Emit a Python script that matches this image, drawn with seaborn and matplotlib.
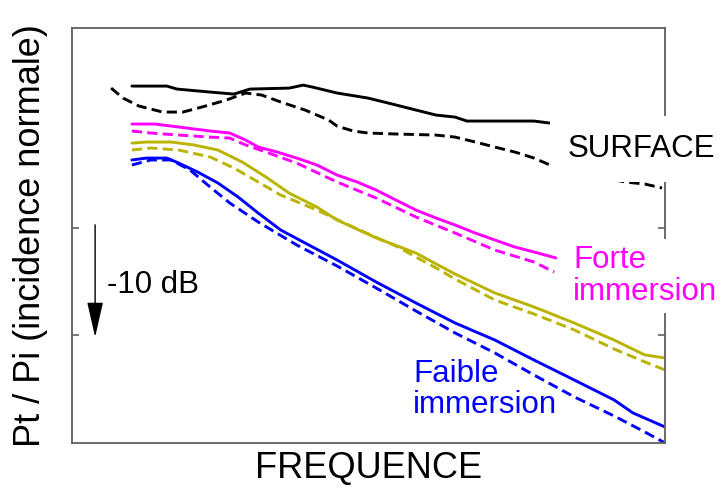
import numpy as np
import pandas as pd
import matplotlib
matplotlib.use("Agg")
import matplotlib.pyplot as plt
import seaborn as sns

# fréquence relative (0-100, échelle arbitraire) et niveau Pt/Pi en dB
surface_plein_x = [10.1, 16.0, 17.7, 23.3, 27.3, 30.0, 36.6, 39.0, 40.6, 44.7, 49.9,
                   54.0, 58.0, 61.4, 64.6, 66.6, 77.9, 80.6]
surface_plein_y = [3.27, 3.27, 2.99, 2.71, 2.52, 2.99, 3.08, 3.36, 3.17, 2.62, 2.15,
                   1.59, 1.03, 0.56, 0.37, 0.0, 0.0, -0.19]

surface_tiret_x = [6.6, 8.6, 11.3, 15.3, 18.7, 21.9, 26.0, 29.3, 32.0, 35.2, 39.3, 43.3,
                   44.7, 47.4, 49.9, 54.6, 61.4, 64.6, 68.0, 71.3, 74.7, 77.9, 80.6,
                   85.7, 90.7, 93.3, 96.6, 99.5]
surface_tiret_y = [3.08, 2.15, 1.40, 0.84, 0.84, 1.31, 1.96, 2.62, 2.43, 1.78, 1.03, 0.09,
                   -0.47, -0.93, -1.12, -1.21, -1.31, -1.50, -1.96, -2.43, -2.90, -3.46,
                   -4.11, -4.77, -5.42, -5.70, -5.89, -6.26]

forte_plein_x = [10.1, 14.0, 18.0, 23.3, 26.6, 29.3, 31.4, 34.6, 37.9, 41.3, 44.7, 48.1,
                 51.3, 54.6, 58.0, 61.4, 64.6, 68.0, 71.3, 74.7, 77.9, 81.6]
forte_plein_y = [-0.28, -0.28, -0.56, -0.93, -1.12, -1.78, -2.43, -2.90, -3.46, -4.11,
                 -5.05, -5.70, -6.45, -7.38, -8.32, -9.07, -9.72, -10.47, -11.12, -11.78,
                 -12.24, -12.80]

forte_tiret_x = [10.1, 13.3, 18.0, 23.3, 26.6, 29.3, 32.7, 37.9, 44.7, 51.3, 58.0, 64.6,
                 71.3, 77.9, 81.3]
forte_tiret_y = [-0.93, -1.12, -1.31, -1.50, -1.59, -2.24, -2.90, -3.93, -5.70, -7.20,
                 -8.97, -10.47, -12.06, -13.18, -14.11]

moyenne_plein_x = [10.1, 12.6, 16.7, 20.6, 24.6, 28.7, 32.7, 36.6, 41.3, 44.7, 51.3, 58.0,
                   61.4, 64.6, 71.3, 77.9, 84.7, 91.4, 96.6, 100.0]
moyenne_plein_y = [-2.06, -1.96, -1.96, -2.24, -2.71, -3.83, -5.23, -6.73, -8.04, -9.25,
                   -10.93, -12.34, -13.36, -14.30, -16.07, -17.38, -18.88, -20.47, -21.87,
                   -22.15]

moyenne_tiret_x = [10.1, 13.3, 18.0, 23.3, 27.3, 31.4, 35.2, 41.3, 48.1, 54.6, 58.0, 61.4,
                   64.6, 71.3, 77.9, 84.7, 91.4, 96.6, 100.0]
moyenne_tiret_y = [-2.71, -2.52, -2.71, -3.36, -4.39, -5.70, -6.92, -8.32, -10.09, -11.68,
                   -12.71, -13.74, -14.77, -16.73, -18.04, -19.53, -21.31, -22.52, -23.27]

faible_plein_x = [10.1, 12.6, 16.0, 18.0, 21.2, 24.6, 28.0, 31.4, 35.2, 39.3, 44.7, 51.3,
                  58.0, 64.6, 71.3, 77.9, 84.7, 91.4, 94.6, 100.0]
faible_plein_y = [-3.64, -3.46, -3.46, -3.93, -4.77, -5.79, -7.10, -8.60, -10.19, -11.40,
                  -12.99, -15.05, -17.01, -18.88, -20.47, -22.34, -24.21, -26.07, -27.29,
                  -28.60]

faible_tiret_x = [10.1, 13.3, 16.7, 19.9, 23.3, 26.6, 31.4, 37.9, 44.7, 51.3, 58.0, 64.6,
                  71.3, 77.9, 84.7, 91.4, 96.6, 100.0]
faible_tiret_y = [-4.11, -3.64, -3.64, -4.58, -6.17, -7.66, -9.44, -11.59, -13.55, -15.61,
                  -17.76, -19.81, -21.68, -23.74, -25.79, -27.57, -29.07, -30.09]

couleurs = {"surface": "black", "forte": "#ff00ff", "moyenne": "#bab400", "faible": "#0000ff"}

series = [
    ("surface", "plein", surface_plein_x, surface_plein_y),
    ("surface", "tiret", surface_tiret_x, surface_tiret_y),
    ("forte", "plein", forte_plein_x, forte_plein_y),
    ("forte", "tiret", forte_tiret_x, forte_tiret_y),
    ("moyenne", "plein", moyenne_plein_x, moyenne_plein_y),
    ("moyenne", "tiret", moyenne_tiret_x, moyenne_tiret_y),
    ("faible", "plein", faible_plein_x, faible_plein_y),
    ("faible", "tiret", faible_tiret_x, faible_tiret_y),
]

frames = []
for nom, trait, xs, ys in series:
    frames.append(pd.DataFrame({"freq": xs, "niveau": ys, "immersion": nom, "trait": trait}))
df = pd.concat(frames, ignore_index=True)

sns.set_theme(style="white")
plt.rcParams["font.family"] = ["Liberation Sans", "DejaVu Sans"]
plt.rcParams["text.color"] = "black"
plt.rcParams["axes.labelcolor"] = "black"

fig = plt.figure(figsize=(7.28, 4.91), dpi=100)
ax = fig.add_axes([72 / 728, 1 - 443 / 491, 593 / 728, 415 / 491])

sns.lineplot(data=df, x="freq", y="niveau", hue="immersion", style="trait",
             palette=couleurs, dashes={"plein": "", "tiret": (3.5, 1.8)},
             estimator=None, sort=False, linewidth=2.1, legend=False, ax=ax)

ax.set_xlim(0, 100)
ax.set_ylim(-30.1, 8.7)
ax.set_xticks([])
ax.set_yticks([-10, -20])
ax.set_yticklabels([])
ax.tick_params(axis="y", direction="in", length=5, width=1.2, color="#606060",
               left=True, right=True)
for sp in ax.spines.values():
    sp.set_color("#606060")
    sp.set_linewidth(1.3)

ax.set_xlabel("FREQUENCE", fontsize=26, labelpad=6)
ax.set_ylabel("Pt / Pi (incidence normale)", fontsize=26, labelpad=14)

# étiquettes sur fond blanc (elles masquent le cadre, comme sur l'original)
ax.text(83.6, -3.36, "SURFACE", fontsize=22.5, color="black", va="baseline",
        ha="left", bbox=dict(facecolor="white", edgecolor="none", pad=13), zorder=5)
ax.text(84.5, -16.73, "Forte\nimmersion", fontsize=22.5, color="#ff00ff", va="baseline",
        ha="left", linespacing=1.1, bbox=dict(facecolor="white", edgecolor="none", pad=4),
        zorder=5)
ax.text(57.5, -27.29, "Faible\nimmersion", fontsize=22.5, color="#0000ff", va="baseline",
        ha="left", linespacing=1.05, zorder=5)

ax.annotate("", xy=(3.9, -20.2), xytext=(3.9, -9.7),
            arrowprops=dict(arrowstyle="-|>,head_length=1.1,head_width=0.25",
                            mutation_scale=20, color="black", lw=1.0,
                            shrinkA=0, shrinkB=0))
ax.text(5.9, -16.07, "-10 dB", fontsize=22.5, color="black", va="baseline", ha="left")

fig.savefig("out.png", dpi=100)
